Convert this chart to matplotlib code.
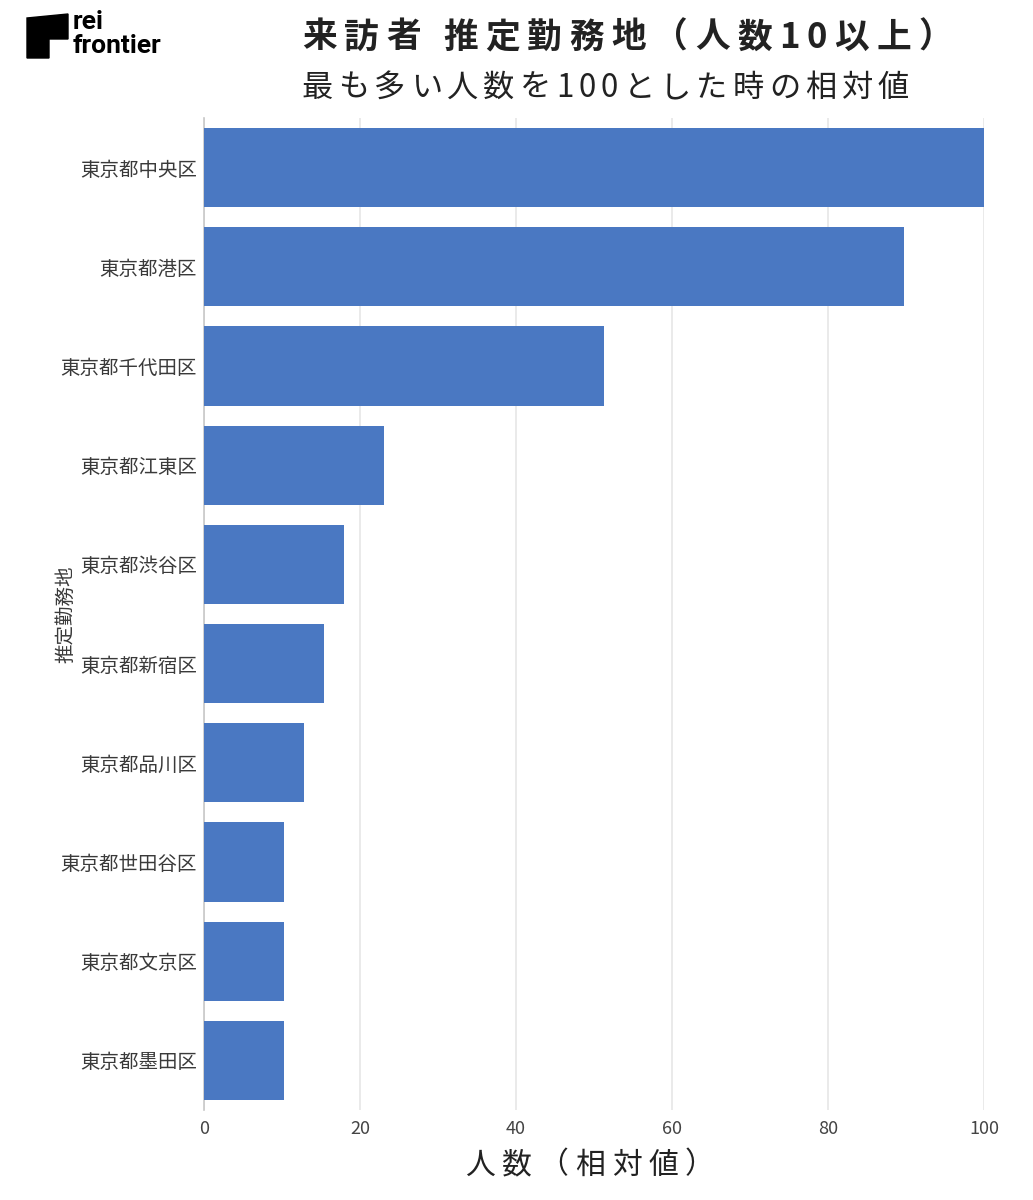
import matplotlib
matplotlib.use("Agg")
import matplotlib.pyplot as plt
from matplotlib.patches import Polygon
from matplotlib.font_manager import findfont, FontProperties
from matplotlib.ft2font import FT2Font

plt.rcParams['font.family'] = ['Noto Sans CJK JP', 'DejaVu Sans']

categories = ["東京都中央区", "東京都港区", "東京都千代田区", "東京都江東区", "東京都渋谷区",
              "東京都新宿区", "東京都品川区", "東京都世田谷区", "東京都文京区", "東京都墨田区"]
values = [100, 89.7, 51.3, 23.1, 17.9, 15.4, 12.8, 10.3, 10.3, 10.3]
xticks = [0, 20, 40, 60, 80, 100]

title = "来訪者 推定勤務地（人数10以上）"
subtitle = "最も多い人数を100とした時の相対値"
xlabel = "人数（相対値）"
ylabel = "推定勤務地"

W, H = 1033, 1200
fig = plt.figure(figsize=(W / 100, H / 100), dpi=100)
ax = fig.add_axes([204 / W, 1 - 1110 / H, 780 / W, 992 / H])

ypos = list(range(len(categories)))
ax.barh(ypos, values, height=0.8, color="#4A78C2", zorder=3)
ax.set_yticks(ypos)
ax.set_yticklabels(categories, fontsize=14, color="#3a3a3a")
ax.set_ylim(len(categories) - 0.5, -0.5)
ax.set_xlim(0, 100)
ax.set_xticks(xticks)
ax.set_xticklabels([str(t) for t in xticks], fontsize=13, color="#444444")
ax.tick_params(axis="y", length=0, pad=5)
ax.tick_params(axis="x", length=0, pad=7)
ax.grid(axis="x", color="#e6e6e6", linewidth=1.2, zorder=0)
for s in ["top", "right", "bottom"]:
    ax.spines[s].set_visible(False)
ax.spines["left"].set_color("#c8c8c8")
ax.spines["left"].set_linewidth(1.2)
ax.set_ylabel(ylabel, fontsize=14, color="#3a3a3a")
ax.yaxis.set_label_coords(-0.163, 0.5)

fig.canvas.draw()
renderer = fig.canvas.get_renderer()


def metrics(s, size, weight):
    """Return per-char (advance, bearingX, inkwidth) in pixels."""
    out = []
    try:
        path = findfont(FontProperties(family="Noto Sans CJK JP", weight=weight))
        font = FT2Font(path)
        font.set_size(size, 100)
        for ch in s:
            g = font.load_char(ord(ch))
            out.append((g.linearHoriAdvance / 65536.0, g.horiBearingX / 64.0, g.width / 64.0))
    except Exception:
        out = []
        for ch in s:
            t = fig.text(0, 0, ch, fontsize=size, fontweight=weight)
            w = t.get_window_extent(renderer).width
            t.remove()
            out.append((w, 0.0, w))
    return out


def spaced(s, ink_left, y_px, size, ink_width, weight="normal", color="#222222"):
    m = metrics(s, size, weight)
    base = sum(a for a, _, _ in m[:-1]) + m[-1][1] + m[-1][2] - m[0][1]
    spacing = (ink_width - base) / (len(s) - 1)
    pen = ink_left - m[0][1]
    for ch, (adv, bx, iw) in zip(s, m):
        if ch.strip():
            fig.text(pen / W, 1 - y_px / H, ch, fontsize=size, fontweight=weight,
                     color=color, ha="left", va="center")
        pen += adv + spacing


spaced(title, 303, 37, 25, 627, weight="bold", color="#222222")
spaced(subtitle, 303, 88, 22.5, 605, color="#222222")
spaced(xlabel, 466, 1165, 21.5, 228, color="#222222")

# logo
logo = [(27, 18), (68, 14), (68, 39), (49, 39), (49, 58), (27, 58)]
fig.patches.append(Polygon([(x / W, 1 - y / H) for x, y in logo], closed=True,
                           transform=fig.transFigure, color="black", figure=fig))
fig.text(73 / W, 1 - 22 / H, "rei", fontsize=19, fontweight="bold", family="Roboto",
         color="black", ha="left", va="center")
fig.text(73 / W, 1 - 46 / H, "frontier", fontsize=19, fontweight="bold", family="Roboto",
         color="black", ha="left", va="center")

fig.savefig("out.png", dpi=100, facecolor="white")
